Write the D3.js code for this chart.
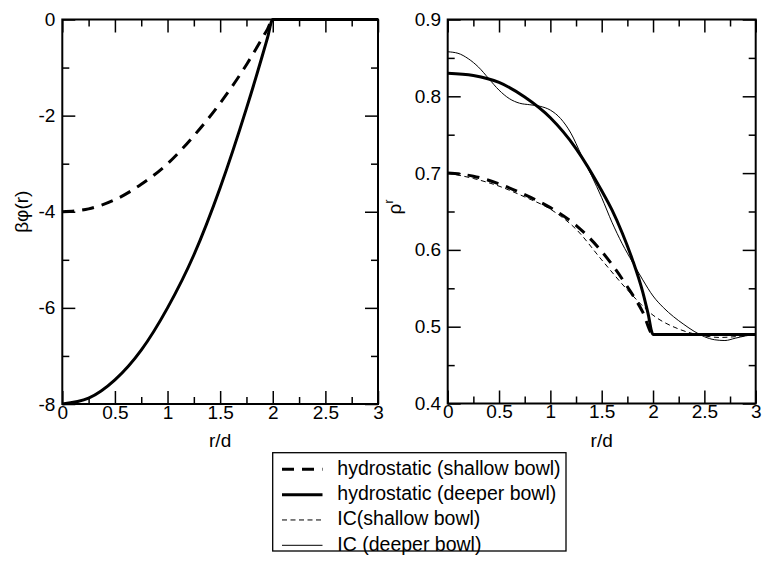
<!DOCTYPE html>
<html>
<head>
<meta charset="utf-8">
<script src="https://cdn.jsdelivr.net/npm/d3@7"></script>
<style>
  html, body { margin: 0; padding: 0; background: #fff; }
  svg { display: block; font-family: "Liberation Sans", Arial, Helvetica, sans-serif; }
</style>
</head>
<body>
<svg id="chart" width="762" height="562"></svg>
<script>
// ---- data -------------------------------------------------------------
// shared x ticks (r/d)
const xTicks = [0, 0.5, 1, 1.5, 2, 2.5, 3];
const xTickLabels = ["0", "0.5", "1", "1.5", "2", "2.5", "3"];
const xMinorTicks = [0.25, 0.75, 1.25, 1.75, 2.25, 2.75];

// left panel: external potential beta*phi(r)
const phiTicks = [0, -2, -4, -6, -8];
const phiTickLabels = ["0", "-2", "-4", "-6", "-8"];
const phiMinorTicks = [-1, -3, -5, -7];
const phiR = [0, 0.25, 0.5, 0.75, 1, 1.25, 1.5, 1.75, 1.9, 1.95, 2, 2.5, 3];
const phiShallow = [-4, -3.94, -3.75, -3.43, -3.0, -2.42, -1.74, -0.94, -0.39, -0.2, 0, 0, 0];
const phiDeeper = [-8, -7.88, -7.5, -6.88, -6.0, -4.9, -3.5, -1.85, -0.76, -0.38, 0, 0, 0];

// right panel: density profile rho(r)
const rhoTicks = [0.4, 0.5, 0.6, 0.7, 0.8, 0.9];
const rhoTickLabels = ["0.4", "0.5", "0.6", "0.7", "0.8", "0.9"];
const rhoMinorTicks = [0.45, 0.55, 0.65, 0.75, 0.85];

const hydroShallowR = [0, 0.25, 0.5, 0.75, 1, 1.25, 1.5, 1.75, 1.9, 2, 2.5, 3];
const hydroShallowRho = [0.700, 0.696, 0.686, 0.672, 0.655, 0.632, 0.598, 0.552, 0.519, 0.490, 0.490, 0.490];

const hydroDeeperR = [0, 0.25, 0.5, 0.75, 1, 1.25, 1.5, 1.6, 1.7, 1.8, 1.9, 1.95, 2, 2.5, 3];
const hydroDeeperRho = [0.830, 0.827, 0.818, 0.799, 0.772, 0.732, 0.677, 0.652, 0.622, 0.587, 0.545, 0.518, 0.490, 0.490, 0.490];

const icShallowR = [0, 0.25, 0.5, 0.75, 1, 1.25, 1.5, 1.75, 2, 2.25, 2.5, 2.65, 2.8, 3];
const icShallowRho = [0.700, 0.693, 0.683, 0.669, 0.653, 0.627, 0.587, 0.548, 0.515, 0.497, 0.488, 0.486, 0.487, 0.490];

const icDeeperR = [0, 0.1, 0.2, 0.3, 0.4, 0.5, 0.6, 0.7, 0.8, 0.9, 1.0, 1.1, 1.2, 1.3, 1.4, 1.5,
                   1.6, 1.7, 1.8, 1.9, 2.0, 2.1, 2.2, 2.3, 2.4, 2.5, 2.6, 2.7, 2.8, 2.9, 3.0];
const icDeeperRho = [0.858, 0.856, 0.849, 0.838, 0.823, 0.808, 0.797, 0.791, 0.789, 0.787, 0.782, 0.771, 0.752, 0.724, 0.697, 0.668,
                     0.636, 0.608, 0.584, 0.561, 0.540, 0.525, 0.513, 0.503, 0.494, 0.487, 0.483, 0.482, 0.485, 0.488, 0.490];

const legendLabels = [
  "hydrostatic (shallow bowl)",
  "hydrostatic (deeper bowl)",
  "IC(shallow bowl)",
  "IC (deeper bowl)"
];

// ---- line styles ------------------------------------------------------
const styles = {
  hydroShallow: { width: 3, dash: "12,8" },
  hydroDeeper:  { width: 3, dash: null },
  icShallow:    { width: 1, dash: "5,3.5" },
  icDeeper:     { width: 1, dash: null }
};

const FONT = 19;
const svg = d3.select("#chart");

function styleAxis(g, tickWidth) {
  g.attr("font-size", null).attr("font-family", null);
  g.select(".domain").remove();
  g.selectAll(".tick line").attr("stroke", "#000").attr("stroke-width", tickWidth);
  g.selectAll(".tick text").attr("fill", "#000").style("font-size", FONT + "px");
}

function drawPanel(cfg) {
  const x = d3.scaleLinear().domain([0, 3]).range([cfg.left, cfg.right]);
  const y = d3.scaleLinear().domain(cfg.yDomain).range([cfg.bottom, cfg.top]);
  const g = svg.append("g");

  const clipId = "clip-" + cfg.id;
  g.append("clipPath").attr("id", clipId)
    .append("rect")
    .attr("x", cfg.left).attr("y", cfg.top - 2)
    .attr("width", cfg.right - cfg.left).attr("height", cfg.bottom - cfg.top + 4);

  const line = d3.line()
    .x(d => x(d[0]))
    .y(d => y(d[1]))
    .curve(d3.curveMonotoneX);

  const curves = g.append("g").attr("clip-path", `url(#${clipId})`);
  cfg.series.forEach(s => {
    curves.append("path")
      .datum(d3.zip(s.r, s.v))
      .attr("d", line)
      .attr("fill", "none")
      .attr("stroke", "#000")
      .attr("stroke-width", s.style.width)
      .attr("stroke-dasharray", s.style.dash)
      .attr("stroke-linejoin", "round");
  });

  const major = 13, minor = 7;
  const xb = cfg.bottom, xt = cfg.top;

  // bottom axis with labels
  g.append("g").attr("transform", `translate(0,${xb})`)
    .call(d3.axisBottom(x).tickValues(xTicks).tickFormat((d, i) => xTickLabels[i])
      .tickSize(-major).tickSizeOuter(0).tickPadding(1))
    .call(a => styleAxis(a, 1.5));
  g.append("g").attr("transform", `translate(0,${xb})`)
    .call(d3.axisBottom(x).tickValues(xMinorTicks).tickFormat("").tickSize(-minor).tickSizeOuter(0))
    .call(a => styleAxis(a, 1.5));
  // top axis (ticks only)
  g.append("g").attr("transform", `translate(0,${xt})`)
    .call(d3.axisTop(x).tickValues(xTicks).tickFormat("").tickSize(-major).tickSizeOuter(0))
    .call(a => styleAxis(a, 1.5));
  g.append("g").attr("transform", `translate(0,${xt})`)
    .call(d3.axisTop(x).tickValues(xMinorTicks).tickFormat("").tickSize(-minor).tickSizeOuter(0))
    .call(a => styleAxis(a, 1.5));
  // left axis with labels
  g.append("g").attr("transform", `translate(${cfg.left},0)`)
    .call(d3.axisLeft(y).tickValues(cfg.yTicks).tickFormat((d, i) => cfg.yTickLabels[i])
      .tickSize(-major).tickSizeOuter(0).tickPadding(cfg.yPad))
    .call(a => styleAxis(a, 1.5));
  g.append("g").attr("transform", `translate(${cfg.left},0)`)
    .call(d3.axisLeft(y).tickValues(cfg.yMinor).tickFormat("").tickSize(-minor).tickSizeOuter(0))
    .call(a => styleAxis(a, 1.5));
  // right axis (ticks only)
  g.append("g").attr("transform", `translate(${cfg.right},0)`)
    .call(d3.axisRight(y).tickValues(cfg.yTicks).tickFormat("").tickSize(-major).tickSizeOuter(0))
    .call(a => styleAxis(a, 1.5));
  g.append("g").attr("transform", `translate(${cfg.right},0)`)
    .call(d3.axisRight(y).tickValues(cfg.yMinor).tickFormat("").tickSize(-minor).tickSizeOuter(0))
    .call(a => styleAxis(a, 1.5));

  // frame
  g.append("rect")
    .attr("x", cfg.left).attr("y", cfg.top)
    .attr("width", cfg.right - cfg.left).attr("height", cfg.bottom - cfg.top)
    .attr("fill", "none").attr("stroke", "#000").attr("stroke-width", 2);

  // x title
  g.append("text")
    .attr("x", (cfg.left + cfg.right) / 2).attr("y", 446.5)
    .attr("text-anchor", "middle")
    .style("font-size", FONT + "px")
    .text("r/d");

  cfg.yTitle(g);
}

// left panel
drawPanel({
  id: "phi",
  left: 62.3, right: 378, top: 19.5, bottom: 404,
  yDomain: [-8, 0],
  yTicks: phiTicks, yTickLabels: phiTickLabels, yMinor: phiMinorTicks, yPad: 7,
  series: [
    { r: phiR, v: phiShallow, style: styles.hydroShallow },
    { r: phiR, v: phiDeeper, style: styles.hydroDeeper }
  ],
  yTitle: g => g.append("text")
    .attr("transform", "translate(27.5,211.75) rotate(-90)")
    .attr("text-anchor", "middle")
    .style("font-size", FONT + "px")
    .text("βφ(r)")
});

// right panel
drawPanel({
  id: "rho",
  left: 447.7, right: 755.7, top: 19.5, bottom: 403.5,
  yDomain: [0.4, 0.9],
  yTicks: rhoTicks, yTickLabels: rhoTickLabels, yMinor: rhoMinorTicks, yPad: 6.5,
  series: [
    { r: icShallowR, v: icShallowRho, style: styles.icShallow },
    { r: icDeeperR, v: icDeeperRho, style: styles.icDeeper },
    { r: hydroShallowR, v: hydroShallowRho, style: styles.hydroShallow },
    { r: hydroDeeperR, v: hydroDeeperRho, style: styles.hydroDeeper }
  ],
  yTitle: g => {
    const t = g.append("text")
      .attr("transform", "translate(401,207) rotate(-90)")
      .attr("text-anchor", "middle")
      .style("font-size", FONT + "px");
    t.append("tspan").text("ρ");
    t.append("tspan").attr("dy", -8).style("font-size", "12px").text("r");
  }
});

// legend
const legend = svg.append("g");
legend.append("rect")
  .attr("x", 272.7).attr("y", 452.7)
  .attr("width", 293.3).attr("height", 98.3)
  .attr("fill", "#fff").attr("stroke", "#000").attr("stroke-width", 1.3);

const legendStyles = [styles.hydroShallow, styles.hydroDeeper, styles.icShallow, styles.icDeeper];
const rowY = d3.scaleLinear().domain([0, 3]).range([469.3, 545.3]);
legendLabels.forEach((label, i) => {
  const yy = rowY(i);
  legend.append("line")
    .attr("x1", 282).attr("x2", 322.5)
    .attr("y1", yy).attr("y2", yy)
    .attr("stroke", "#000")
    .attr("stroke-width", legendStyles[i].width)
    .attr("stroke-dasharray", legendStyles[i].dash);
  legend.append("text")
    .attr("x", 337.3).attr("y", yy + 5.5)
    .style("font-size", "19.5px")
    .text(label);
});
</script>
</body>
</html>
